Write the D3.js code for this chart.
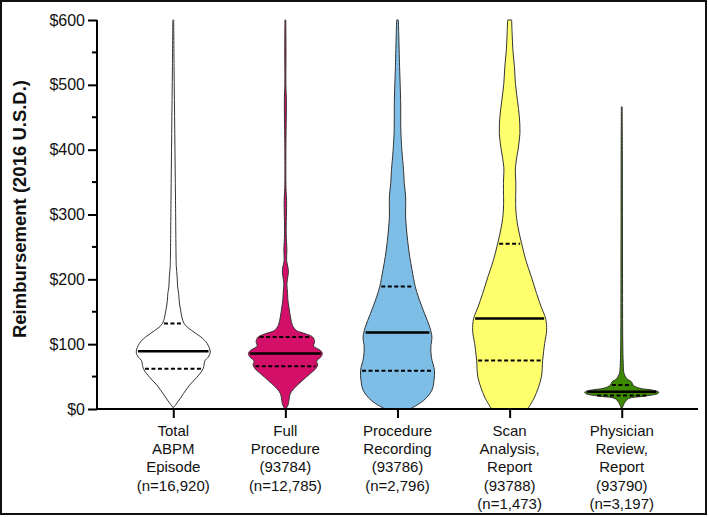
<!DOCTYPE html>
<html><head><meta charset="utf-8">
<script src="https://cdn.jsdelivr.net/npm/d3@7"></script>
<style>body{margin:0;background:#fff}svg{display:block;font-family:Arial,"Liberation Sans",sans-serif}</style>
</head><body><svg id="c" width="709" height="517"></svg>
<script>
// ---- data ----
const categories = ["total","full","recording","scan","physician"];
const categoryLabels = [
  ["Total","ABPM","Episode","(n=16,920)"],
  ["Full","Procedure","(93784)","(n=12,785)"],
  ["Procedure","Recording","(93786)","(n=2,796)"],
  ["Scan","Analysis,","Report","(93788)","(n=1,473)"],
  ["Physician","Review,","Report","(93790)","(n=3,197)"]
];
const fillColors = ["#ffffff","#d40f69","#7dbde6","#ffff6e","#3d8a00"];
// profile: [reimbursement value, relative density]
const totalProfile = [[2,0],[10,4],[24,10],[37,16],[49,23],[62,29],[75,31],[80,34],[88,36],[101,33],[111,27],[121,18],[132,10.5],[152,7.2],[168,5.7],[178,5.3],[188,4.3],[204,3.8],[219,3],[229,2.8],[322,2.2],[425,1.5],[528,0.8],[600,0.4]];
const fullProfile = [[0,0.5],[8,3],[13,3.5],[24,5],[34,10],[44,17],[55,25],[62,30],[68,32],[74,31],[80,35],[85.5,36.7],[90,35],[97,28],[104,29],[111,27],[116,20],[121,11],[129,7],[142,5],[157,3.5],[168,2.5],[178,2.2],[193,1.5],[205,2.5],[211,3],[219,2.5],[229,1.2],[245,1.5],[270,0.8],[322,1.2],[340,0.6],[400,0.5],[476,1],[500,0.5],[550,0.6],[600,0.4]];
const recordingProfile = [[0,12],[13,25],[29,33],[44,35],[59,35.5],[80,32.5],[96,32],[111,33],[126,31],[147,26],[173,20],[189,17],[214,14],[235,11.7],[260,9.7],[296,7.8],[327,7.8],[348,6.5],[368,5.8],[399,4.2],[430,3.2],[476,3],[528,2],[579,1.2],[600,0.8]];
const scanProfile = [[0,18],[18.5,25],[49,31.7],[75,33],[101,35],[121,37],[139.5,36],[157,31.7],[178,27],[204,21.7],[229,16.3],[255,12],[281,8.3],[307,6.2],[348,6.2],[373,5.8],[399,8.3],[425,10.3],[451,9.7],[476,7.8],[502,5.8],[528,4.8],[553,3.3],[579,2.5],[600,2]];
const physicianProfile = [[1,0.5],[8,2.3],[16,6.7],[19.6,21.7],[23.8,36.7],[26,37.7],[29,31.7],[32,18.3],[36.6,11.7],[41.7,10],[47,5],[55,2.3],[70,1.5],[106,1],[200,0.8],[300,0.7],[400,0.6],[466,0.4]];
const profiles = [totalProfile, fullProfile, recordingProfile, scanProfile, physicianProfile];
const medians = [89, 85.5, 118, 139.5, 26.5];
const lowerQuartiles = [62, 66, 59, 75, 21];
const upperQuartiles = [132, 111, 189, 255, 37];
const yTicks = [0,100,200,300,400,500,600];
const yMinorTicks = [50,150,250,350,450,550];

// ---- drawing ----
const svg = d3.select("#c");
const pLeft = 97, pRight = 698, pTop = 20, pBottom = 409;
const y = d3.scaleLinear().domain([0,600]).range([pBottom, pTop]);
const x = d3.scalePoint().domain(categories).range([pLeft, pRight]).padding(0.68);
const maxHalf = 37;

// frame
svg.append("rect").attr("x",1).attr("y",1).attr("width",705).attr("height",513)
  .attr("fill","none").attr("stroke","#111").attr("stroke-width",2);

const area = d3.area().curve(d3.curveCatmullRom.alpha(0.5));
categories.forEach((c,i)=>{
  const prof = profiles[i];
  const cx = x(c);
  const w = d3.scaleLinear().domain([0, d3.max(prof, d=>d[1])]).range([0, maxHalf]);
  const g = svg.append("g");
  area.y(d=>y(d[0])).x0(d=>cx - w(d[1])).x1(d=>cx + w(d[1]));
  g.append("path").datum(prof).attr("d", area)
    .attr("fill", fillColors[i]).attr("stroke","#333").attr("stroke-width",1);
  const hw = d3.scaleLinear().domain(prof.map(d=>d[0])).range(prof.map(d=>w(d[1])));
  const line = (v, dashed, sw) => {
    const h = Math.max(hw(v) - 1.5, 1);
    g.append("line").attr("x1", cx - h).attr("x2", cx + h).attr("y1", y(v)).attr("y2", y(v))
      .attr("stroke","#000").attr("stroke-width", sw)
      .attr("stroke-dasharray", dashed ? "4,2.5" : null);
  };
  line(lowerQuartiles[i], true, 2);
  line(upperQuartiles[i], true, 2);
  line(medians[i], false, 2.6);
});

// y axis
const ya = svg.append("g").attr("transform",`translate(${pLeft},0)`)
  .call(d3.axisLeft(y).tickValues(yTicks).tickFormat(d=>"$"+d).tickSize(9).tickPadding(3));
ya.selectAll(".tick line").attr("stroke","#000").attr("stroke-width",2);
ya.selectAll(".tick text").attr("font-size",16).attr("fill","#111").attr("font-family","Arial, 'Liberation Sans', sans-serif");
ya.select(".domain").attr("stroke","#000").attr("stroke-width",2).attr("d",`M0,${pTop}V${pBottom}`);
svg.append("g").selectAll("line").data(yMinorTicks).join("line")
  .attr("x1",pLeft-5).attr("x2",pLeft).attr("y1",d=>y(d)).attr("y2",d=>y(d))
  .attr("stroke","#000").attr("stroke-width",2);

// x axis
const xa = svg.append("g").attr("transform",`translate(0,${pBottom})`)
  .call(d3.axisBottom(x).tickSize(9).tickFormat(""));
xa.select(".domain").attr("stroke","#000").attr("stroke-width",2).attr("d",`M${pLeft-1},0H${pRight}`);
xa.selectAll(".tick line").attr("stroke","#000").attr("stroke-width",2);

const lab = svg.append("g").attr("font-size",15).attr("fill","#111").attr("text-anchor","middle");
categories.forEach((c,i)=>{
  const t = lab.append("text").attr("x", x(c)).attr("y", 436);
  categoryLabels[i].forEach((s,k)=>{
    t.append("tspan").attr("x", x(c)).attr("dy", k===0?0:18.2).text(s);
  });
});

svg.append("text").attr("transform","translate(26,209) rotate(-90)")
  .attr("text-anchor","middle").attr("font-size",18.5).attr("font-weight","bold").attr("fill","#111")
  .text("Reimbursement (2016 U.S.D.)");
</script></body></html>
